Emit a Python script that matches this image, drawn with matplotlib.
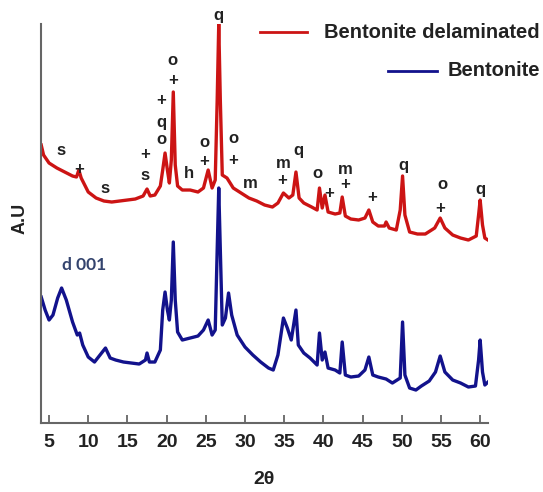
import matplotlib.pyplot as plt
from matplotlib.lines import Line2D

RED = "#cc1414"
BLUE = "#12128c"
TEXT_GRAY = "#222222"
SPINE_GRAY = "#666666"
FONT = "Liberation Sans"

# 2theta / intensity (a.u.)
red_2theta = [4.0, 4.3, 5.0, 6.0, 7.0, 8.0, 8.5, 8.8, 9.1, 10.0, 11.0, 12.0, 13.0, 14.0,
              15.0, 16.0, 17.0, 17.5, 17.9, 18.5, 19.2, 19.5, 19.8, 20.1, 20.35, 20.6,
              20.85, 21.1, 21.4, 22.0, 23.0, 24.0, 24.7, 25.3, 25.8, 26.2, 26.45, 26.65,
              26.85, 27.1, 27.7, 28.5, 29.5, 30.5, 31.5, 32.5, 33.5, 34.2, 34.9, 35.6,
              36.1, 36.5, 36.9, 37.5, 38.5, 39.2, 39.5, 39.85, 40.2, 40.6, 41.5, 42.1,
              42.4, 42.8, 43.5, 44.5, 45.3, 45.8, 46.3, 47.0, 47.8, 48.0, 48.4, 49.3,
              49.8, 50.1, 50.4, 51.0, 52.0, 53.0, 54.2, 54.9, 55.5, 56.5, 57.5, 58.5,
              59.5, 59.8, 60.0, 60.3, 60.6, 61.0]
red_counts = [278, 268, 260, 255, 251, 247, 246, 253, 245, 231, 225, 222, 221, 222,
              223, 224, 227, 234, 227, 228, 237, 253, 270, 253, 240, 263,
              331, 258, 237, 233, 233, 231, 235, 253, 235, 243, 323, 399,
              323, 248, 245, 235, 230, 225, 222, 218, 216, 220, 230, 225,
              228, 251, 225, 220, 216, 213, 235, 215, 228, 211, 209, 210,
              226, 207, 204, 203, 205, 213, 201, 197, 197, 201, 195, 193,
              213, 247, 208, 191, 189, 189, 195, 205, 195, 188, 185, 183,
              187, 208, 223, 198, 185, 183]

blue_2theta = [4.0, 4.5, 5.0, 5.5, 6.1, 6.6, 7.2, 8.0, 8.6, 8.9, 9.3, 10.0, 10.8, 11.5,
               12.2, 12.8, 13.5, 14.5, 15.5, 16.5, 17.3, 17.5, 17.8, 18.5, 19.2, 19.5,
               19.8, 20.1, 20.35, 20.6, 20.85, 21.1, 21.4, 22.0, 23.0, 24.0, 24.7, 25.3,
               25.8, 26.2, 26.45, 26.65, 26.85, 27.1, 27.5, 27.9, 28.3, 29.0, 30.0, 31.0,
               32.0, 33.0, 33.6, 34.2, 34.9, 35.4, 35.9, 36.5, 36.8, 37.5, 38.3, 39.2,
               39.5, 39.85, 40.2, 40.6, 41.5, 42.1, 42.4, 42.8, 43.5, 44.5, 45.3, 45.8,
               46.3, 47.0, 48.0, 48.8, 49.8, 50.1, 50.4, 51.0, 51.8, 52.5, 53.5, 54.3,
               54.9, 55.5, 56.5, 57.5, 58.5, 59.4, 59.8, 60.0, 60.3, 60.6, 61.0]
blue_counts = [126, 113, 103, 108, 125, 135, 123, 101, 88, 90, 78, 66, 61, 68,
               75, 65, 63, 61, 60, 59, 63, 70, 61, 61, 73, 113,
               131, 113, 103, 123, 181, 123, 91, 83, 85, 87, 93, 103,
               88, 93, 173, 235, 173, 98, 105, 130, 108, 88, 76, 68,
               61, 55, 53, 68, 105, 95, 83, 113, 78, 70, 65, 58,
               90, 63, 71, 55, 53, 50, 81, 48, 46, 47, 53, 66,
               48, 46, 44, 40, 45, 101, 48, 35, 33, 37, 42, 51,
               67, 51, 43, 40, 36, 37, 63, 83, 51, 38, 41]

# phase markers over the delaminated pattern
marker_labels = ["s", "+", "s", "+", "s", "+", "q", "o", "o", "+", "h", "o", "+", "q",
                 "o", "+", "m", "m", "+", "q", "o", "+", "m", "+", "+", "q", "o", "+", "q"]
marker_2theta = [6.5, 8.8, 12.1, 17.25, 17.25, 19.3, 19.3, 19.3, 20.8, 20.8, 22.9, 24.8,
                 24.8, 26.6, 28.5, 28.5, 30.7, 34.9, 34.75, 36.8, 39.3, 40.75, 42.8,
                 42.8, 46.2, 50.2, 55.15, 54.9, 60.0]
marker_counts = [273, 254, 235, 269, 248, 323, 301, 284, 363, 343, 250, 281, 262, 408,
                 285, 263, 240, 260, 243, 273, 250, 230, 254, 239, 226, 258, 239, 215, 234]

x_ticks = [5, 10, 15, 20, 25, 30, 35, 40, 45, 50, 55, 60]

fig = plt.figure(figsize=(5.43, 4.92), dpi=100)
ax = fig.add_axes([0.0759, 0.1402, 0.8228, 0.811])

ax.plot(red_2theta, red_counts, color=RED, linewidth=2.4, solid_joinstyle="round")
ax.plot(blue_2theta, blue_counts, color=BLUE, linewidth=2.4, solid_joinstyle="round")

for label, x, y in zip(marker_labels, marker_2theta, marker_counts):
    ax.text(x, y, label, ha="center", va="center", fontsize=12, fontweight="bold",
            family=FONT, color=TEXT_GRAY)

ax.text(9.45, 158, "d 001", ha="center", va="center", fontsize=12.5, fontweight="bold",
        family="Lato", color="#34446e")

ax.set_xlim(4, 61)
ax.set_ylim(0, 399)
ax.set_xticks(x_ticks)
ax.set_yticks([])
for label in ax.get_xticklabels():
    label.set_fontfamily(FONT)
    label.set_fontweight("bold")
ax.tick_params(axis="x", direction="in", length=6, width=1.3, colors=SPINE_GRAY,
               labelcolor=TEXT_GRAY, labelsize=14, pad=8)

for side in ["top", "right"]:
    ax.spines[side].set_visible(False)
for side in ["left", "bottom"]:
    ax.spines[side].set_color(SPINE_GRAY)
    ax.spines[side].set_linewidth(1.5)

fig.text(264 / 543, 1 - 480 / 492, "2θ", ha="center", va="center", fontsize=14,
         fontweight="bold", family=FONT, color=TEXT_GRAY)
fig.text(20 / 543, 1 - 218 / 492, "A.U", ha="center", va="center", rotation=90,
         fontsize=13, fontweight="bold", family=FONT, color=TEXT_GRAY)

# legend drawn by hand: entries are right aligned in the reference
fig.add_artist(Line2D([260 / 543, 307 / 543], [1 - 32 / 492, 1 - 32 / 492],
                      color=RED, linewidth=2.0))
fig.text(540 / 543, 1 - 32 / 492, "Bentonite delaminated", ha="right", va="center",
         fontsize=14.5, fontweight="bold", family=FONT, color=TEXT_GRAY)
fig.add_artist(Line2D([388 / 543, 437 / 543], [1 - 71 / 492, 1 - 71 / 492],
                      color=BLUE, linewidth=2.0))
fig.text(540 / 543, 1 - 71 / 492, "Bentonite", ha="right", va="center",
         fontsize=14.5, fontweight="bold", family=FONT, color=TEXT_GRAY)

fig.savefig("out.png", dpi=100)
